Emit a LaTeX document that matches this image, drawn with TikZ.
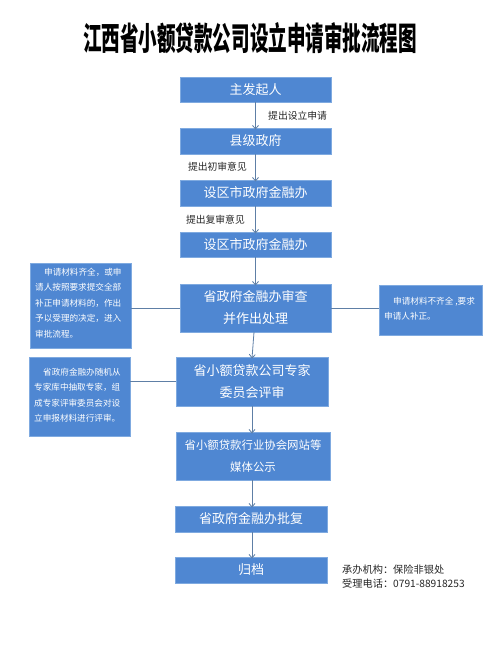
\documentclass[tikz,border=0pt]{standalone}
\usepackage{fontspec}
\usepackage{graphicx}
\setmainfont{Noto Sans CJK SC}
\usetikzlibrary{arrows.meta}
\definecolor{boxblue}{HTML}{4F87D2}
\definecolor{boxedge}{HTML}{7FAAE0}
\definecolor{linecol}{HTML}{5E7FA6}
\tikzset{
  box/.style={draw=boxedge, line width=0.6pt, fill=boxblue, text=white, inner sep=0pt, outer sep=0pt, align=center, font=\fontsize{13}{22}\selectfont},
  side/.style={draw=boxedge, line width=0.6pt, fill=boxblue, text=white, inner sep=0pt, outer sep=0pt},
  sidetext/.style={text=white, align=left, inner sep=0pt, font=\fontsize{8.6}{15.5}\selectfont},
  arr/.style={draw=linecol, line width=0.8pt, -{Straight Barb[length=3.5pt,width=6pt]}},
  conn/.style={draw=linecol, line width=0.8pt},
  lab/.style={inner sep=0pt, font=\fontsize{9.8}{12}\selectfont, text=black!85},
}
\begin{document}
\begin{tikzpicture}[x=1pt,y=-1pt]
\useasboundingbox[fill=white] (0,0) rectangle (500,646);
% title
\node[inner sep=0pt] (title) at (250,38) {\resizebox{334pt}{28pt}{\fontsize{24}{28}\selectfont\bfseries 江西省小额贷款公司设立申请审批流程图}};
% main boxes
\node[box, minimum width=151pt, minimum height=25pt] (b1) at (255.5,89.5) {主发起人};
\node[box, minimum width=151pt, minimum height=26pt] (b2) at (255.5,141) {县级政府};
\node[box, minimum width=151pt, minimum height=26pt] (b3) at (255.5,193) {设区市政府金融办};
\node[box, minimum width=151pt, minimum height=25pt] (b4) at (255.5,244.5) {设区市政府金融办};
\node[box, minimum width=151pt, minimum height=48pt] (b5) at (255.5,308) {省政府金融办审查\\并作出处理};
\node[box, minimum width=152pt, minimum height=49pt] (b6) at (252,381.5) {省小额贷款公司专家\\委员会评审};
\node[box, minimum width=154pt, minimum height=48pt, font=\fontsize{11.4}{22}\selectfont] (b7) at (253,456) {省小额贷款行业协会网站等\\媒体公示};
\node[box, minimum width=152pt, minimum height=26pt] (b8) at (251,519) {省政府金融办批复};
\node[box, minimum width=152pt, minimum height=26pt] (b9) at (251,570) {归档};
% side boxes
\node[side, minimum width=101pt, minimum height=85pt] (sa) at (80.5,305.5) {};
\node[sidetext, anchor=north west] (sat) at (35,267.5) {\hspace{9pt}申请材料齐全，或申\\请人按照要求提交全部\\补正申请材料的，作出\\予以受理的决定，进入\\审批流程。};
\node[side, minimum width=103pt, minimum height=50pt] (sb) at (430.5,310) {};
\node[sidetext, anchor=north west] (sbt) at (384,296.5) {\hspace{9pt}申请材料不齐全 ,要求\\申请人补正。};
\node[side, minimum width=101pt, minimum height=79pt] (sc) at (79.5,396.5) {};
\node[sidetext, anchor=north west] (sct) at (34,367.5) {\hspace{9pt}省政府金融办随机从\\专家库中抽取专家，组\\成专家评审委员会对设\\立申报材料进行评审。};
% connectors
\draw[arr] (b1.south) -- ([yshift=-1.5pt]b2.north);
\draw[arr] (b2.south) -- ([yshift=-1.5pt]b3.north);
\draw[arr] (b3.south) -- ([yshift=-1.5pt]b4.north);
\draw[arr] (b4.south) -- ([yshift=-1.5pt]b5.north);
\draw[arr] ([xshift=-1.5pt]b5.south) -- ([yshift=-1.5pt]b6.north);
\draw[arr] (b6.south) -- ([yshift=-1.5pt]b6.south |- b7.north);
\draw[arr] (b6.south |- b7.south) -- ([yshift=-1.5pt]b6.south |- b8.north);
\draw[arr] (b6.south |- b8.south) -- ([yshift=-1.5pt]b6.south |- b9.north);
\draw[conn] (b5.west) -- (b5.west -| sa.east);
\draw[conn] (b5.east) -- (b5.east -| sb.west);
\draw[conn] (b6.west) -- (b6.west -| sc.east);
% arrow labels
\node[lab, anchor=west] (l1) at (268,116) {提出设立申请};
\node[lab, anchor=east] (l2) at (247,167) {提出初审意见};
\node[lab, anchor=east] (l3) at (245,220) {提出复审意见};
% footer
\node[inner sep=0pt, anchor=north west, align=left, font=\fontsize{10.2}{13.5}\selectfont, text=black!85] (foot) at (342,565) {承办机构：保险非银处\\受理电话：0791-88918253};
\end{tikzpicture}
\end{document}
